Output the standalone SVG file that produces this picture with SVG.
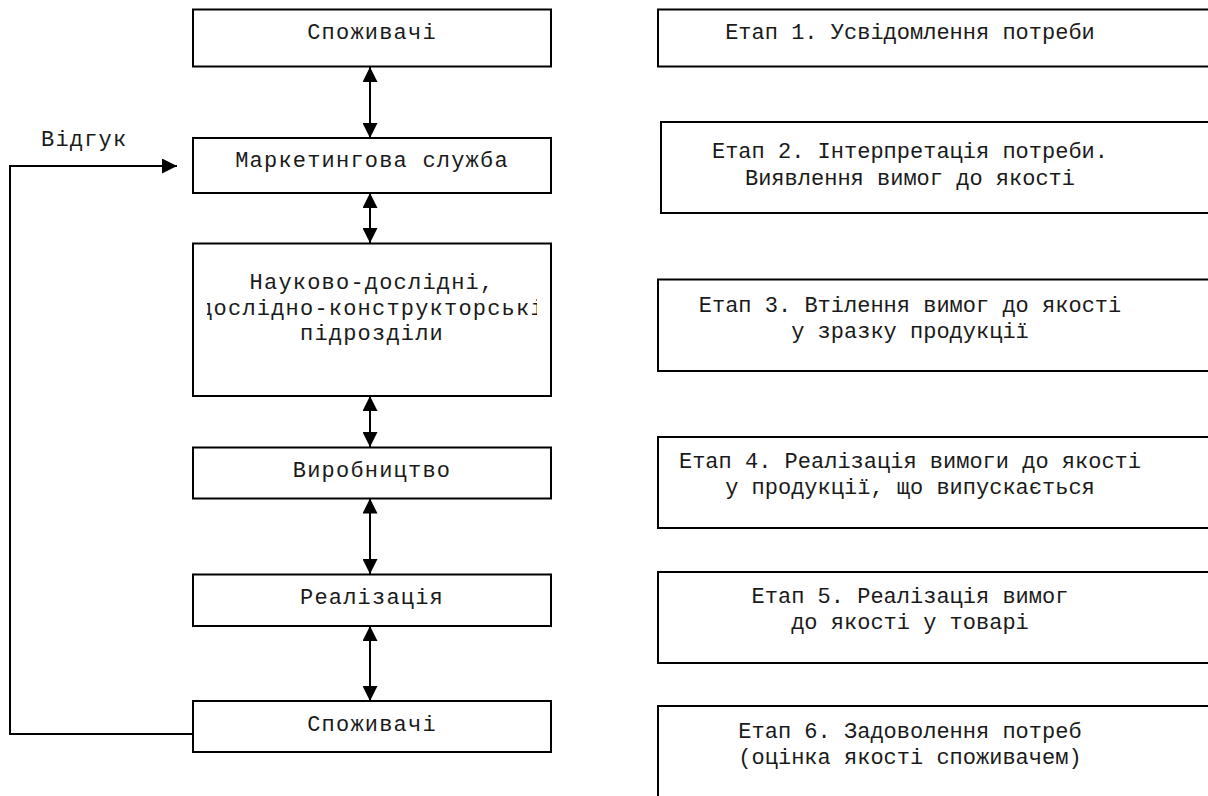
<svg xmlns="http://www.w3.org/2000/svg" width="1208" height="796" viewBox="0 0 1208 796">
<style>
.box{fill:#fff;stroke:#000;stroke-width:2}
.lt{font-family:"Liberation Mono","Courier New",monospace;font-size:22px;letter-spacing:1.2px;fill:#1a1a1a;text-anchor:middle}
.rt{font-family:"Liberation Mono","Courier New",monospace;font-size:22px;fill:#1a1a1a;text-anchor:middle}
.con{fill:none;stroke:#000;stroke-width:2}
</style>
<defs>
<marker id="ah" markerUnits="userSpaceOnUse" markerWidth="15" markerHeight="15" refX="15" refY="7.5" orient="auto-start-reverse">
<path d="M0,0 L15,7.5 L0,15 z" fill="#000"/>
</marker>
<clipPath id="clipNd"><rect x="207" y="243" width="330" height="153"/></clipPath>
</defs>
<rect width="1208" height="796" fill="#fff"/>

<g id="connectors">
<line class="con" x1="370" y1="67" x2="370" y2="138" marker-start="url(#ah)" marker-end="url(#ah)"/>
<line class="con" x1="370" y1="193" x2="370" y2="243" marker-start="url(#ah)" marker-end="url(#ah)"/>
<line class="con" x1="370" y1="396" x2="370" y2="447" marker-start="url(#ah)" marker-end="url(#ah)"/>
<line class="con" x1="370" y1="498.5" x2="370" y2="574" marker-start="url(#ah)" marker-end="url(#ah)"/>
<line class="con" x1="370" y1="626" x2="370" y2="701" marker-start="url(#ah)" marker-end="url(#ah)"/>
<polyline class="con" points="193,734 10,734 10,166 177,166" marker-end="url(#ah)"/>
<text class="lt" x="41" y="146" style="text-anchor:start">Відгук</text>
</g>

<g id="n-consumers-top">
<rect class="box" x="193" y="9.5" width="358" height="57"/>
<text class="lt" x="372" y="39">Споживачі</text>
</g>
<g id="n-marketing">
<rect class="box" x="193" y="138" width="358" height="55"/>
<text class="lt" x="372" y="167">Маркетингова служба</text>
</g>
<g id="n-rnd">
<rect class="box" x="193" y="243.5" width="358" height="152.5"/>
<text class="lt" x="372" y="289">Науково-дослідні,</text>
<text class="lt" x="372" y="314.5" clip-path="url(#clipNd)">дослідно-конструкторські</text>
<text class="lt" x="372" y="340">підрозділи</text>
</g>
<g id="n-production">
<rect class="box" x="193" y="447.5" width="358" height="51"/>
<text class="lt" x="372" y="477">Виробництво</text>
</g>
<g id="n-sales">
<rect class="box" x="193" y="574.5" width="358" height="51.5"/>
<text class="lt" x="372" y="604">Реалізація</text>
</g>
<g id="n-consumers-bottom">
<rect class="box" x="193" y="701" width="358" height="51"/>
<text class="lt" x="372" y="731">Споживачі</text>
</g>

<g id="s1">
<rect class="box" x="658" y="9.5" width="560" height="57"/>
<text class="rt" x="910" y="39">Етап 1. Усвідомлення потреби</text>
</g>
<g id="s2">
<rect class="box" x="661" y="122" width="560" height="91"/>
<text class="rt" x="910" y="158">Етап 2. Інтерпретація потреби.</text>
<text class="rt" x="910" y="184.5">Виявлення вимог до якості</text>
</g>
<g id="s3">
<rect class="box" x="658" y="279.5" width="560" height="91.5"/>
<text class="rt" x="910" y="312">Етап 3. Втілення вимог до якості</text>
<text class="rt" x="910" y="338">у зразку продукції</text>
</g>
<g id="s4">
<rect class="box" x="658" y="437" width="560" height="91"/>
<text class="rt" x="910" y="468">Етап 4. Реалізація вимоги до якості</text>
<text class="rt" x="910" y="494">у продукції, що випускається</text>
</g>
<g id="s5">
<rect class="box" x="658" y="572" width="560" height="91"/>
<text class="rt" x="910" y="603">Етап 5. Реалізація вимог</text>
<text class="rt" x="910" y="629">до якості у товарі</text>
</g>
<g id="s6">
<rect class="box" x="658" y="706" width="560" height="120"/>
<text class="rt" x="910" y="738">Етап 6. Задоволення потреб</text>
<text class="rt" x="910" y="764">(оцінка якості споживачем)</text>
</g>
</svg>
